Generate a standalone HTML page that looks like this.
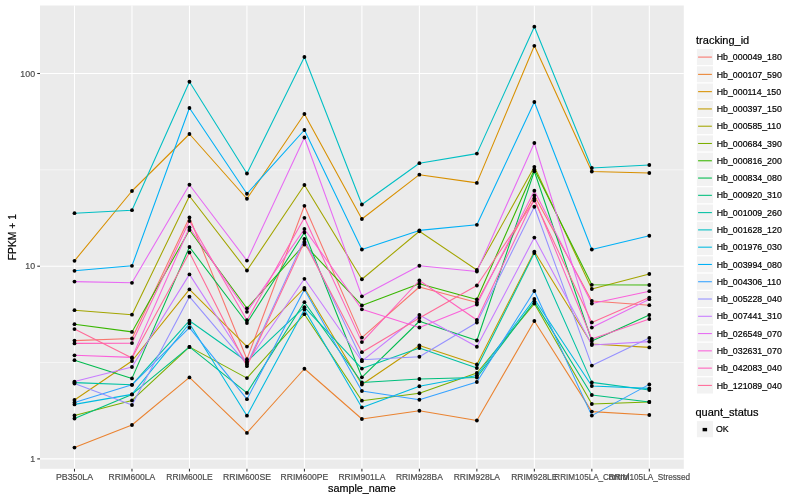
<!DOCTYPE html><html><head><meta charset="utf-8"><style>html,body{margin:0;padding:0;background:#fff;width:800px;height:500px;overflow:hidden}svg{display:block}text{font-family:"Liberation Sans",Arial,Helvetica,sans-serif;stroke-width:0.2px}text[fill="#000"]{stroke:#000}text[fill="#4D4D4D"]{stroke:#4D4D4D}</style></head><body>
<svg width="800" height="500" viewBox="0 0 800 500">
<rect width="800" height="500" fill="#FFFFFF"/>
<rect x="40.0" y="5.5" width="643.80" height="463.30" fill="#EBEBEB"/>
<line x1="40.0" x2="683.8" y1="169.85" y2="169.85" stroke="#FFFFFF" stroke-width="0.53"/>
<line x1="40.0" x2="683.8" y1="362.55" y2="362.55" stroke="#FFFFFF" stroke-width="0.53"/>
<line x1="40.0" x2="683.8" y1="73.5" y2="73.5" stroke="#FFFFFF" stroke-width="1.07"/>
<line x1="40.0" x2="683.8" y1="266.2" y2="266.2" stroke="#FFFFFF" stroke-width="1.07"/>
<line x1="40.0" x2="683.8" y1="458.9" y2="458.9" stroke="#FFFFFF" stroke-width="1.07"/>
<line x1="74.49" x2="74.49" y1="5.5" y2="468.8" stroke="#FFFFFF" stroke-width="1.07"/>
<line x1="131.97" x2="131.97" y1="5.5" y2="468.8" stroke="#FFFFFF" stroke-width="1.07"/>
<line x1="189.45" x2="189.45" y1="5.5" y2="468.8" stroke="#FFFFFF" stroke-width="1.07"/>
<line x1="246.94" x2="246.94" y1="5.5" y2="468.8" stroke="#FFFFFF" stroke-width="1.07"/>
<line x1="304.42" x2="304.42" y1="5.5" y2="468.8" stroke="#FFFFFF" stroke-width="1.07"/>
<line x1="361.90" x2="361.90" y1="5.5" y2="468.8" stroke="#FFFFFF" stroke-width="1.07"/>
<line x1="419.38" x2="419.38" y1="5.5" y2="468.8" stroke="#FFFFFF" stroke-width="1.07"/>
<line x1="476.86" x2="476.86" y1="5.5" y2="468.8" stroke="#FFFFFF" stroke-width="1.07"/>
<line x1="534.35" x2="534.35" y1="5.5" y2="468.8" stroke="#FFFFFF" stroke-width="1.07"/>
<line x1="591.83" x2="591.83" y1="5.5" y2="468.8" stroke="#FFFFFF" stroke-width="1.07"/>
<line x1="649.31" x2="649.31" y1="5.5" y2="468.8" stroke="#FFFFFF" stroke-width="1.07"/>
<polyline points="74.49,340.60 131.97,338.50 189.45,217.50 246.94,359.20 304.42,205.80 361.90,337.60 419.38,287.00 476.86,302.50 534.35,195.50 591.83,301.00 649.31,305.20" fill="none" stroke="#F8766D" stroke-width="1.07" stroke-linejoin="round" stroke-linecap="butt"/>
<polyline points="74.49,447.60 131.97,425.00 189.45,377.40 246.94,432.90 304.42,368.75 361.90,419.00 419.38,410.75 476.86,420.50 534.35,321.00 591.83,411.60 649.31,415.00" fill="none" stroke="#EA8331" stroke-width="1.07" stroke-linejoin="round" stroke-linecap="butt"/>
<polyline points="74.49,260.80 131.97,191.00 189.45,134.00 246.94,198.75 304.42,114.00 361.90,219.00 419.38,174.70 476.86,182.90 534.35,45.80 591.83,171.50 649.31,173.00" fill="none" stroke="#D89000" stroke-width="1.07" stroke-linejoin="round" stroke-linecap="butt"/>
<polyline points="74.49,400.00 131.97,361.00 189.45,289.40 246.94,346.60 304.42,288.00 361.90,384.50 419.38,345.50 476.86,364.50 534.35,251.60 591.83,344.00 649.31,347.40" fill="none" stroke="#C09B00" stroke-width="1.07" stroke-linejoin="round" stroke-linecap="butt"/>
<polyline points="74.49,310.20 131.97,314.70 189.45,196.00 246.94,270.50 304.42,185.00 361.90,279.25 419.38,231.25 476.86,270.00 534.35,166.80 591.83,289.00 649.31,274.00" fill="none" stroke="#A3A500" stroke-width="1.07" stroke-linejoin="round" stroke-linecap="butt"/>
<polyline points="74.49,415.40 131.97,400.40 189.45,346.90 246.94,378.10 304.42,314.20 361.90,400.70 419.38,393.25 476.86,373.00 534.35,303.60 591.83,404.00 649.31,402.00" fill="none" stroke="#7CAE00" stroke-width="1.07" stroke-linejoin="round" stroke-linecap="butt"/>
<polyline points="74.49,324.20 131.97,331.90 189.45,230.00 246.94,308.30 304.42,244.50 361.90,305.40 419.38,283.75 476.86,299.50 534.35,169.50 591.83,284.80 649.31,285.00" fill="none" stroke="#39B600" stroke-width="1.07" stroke-linejoin="round" stroke-linecap="butt"/>
<polyline points="74.49,360.20 131.97,378.40 189.45,247.00 246.94,323.00 304.42,232.50 361.90,377.30 419.38,321.25 476.86,340.50 534.35,171.25 591.83,341.00 649.31,315.00" fill="none" stroke="#00BB4E" stroke-width="1.07" stroke-linejoin="round" stroke-linecap="butt"/>
<polyline points="74.49,418.50 131.97,394.40 189.45,346.90 246.94,392.90 304.42,302.20 361.90,382.50 419.38,379.00 476.86,377.50 534.35,301.60 591.83,395.00 649.31,402.00" fill="none" stroke="#00BF7D" stroke-width="1.07" stroke-linejoin="round" stroke-linecap="butt"/>
<polyline points="74.49,382.60 131.97,384.80 189.45,320.70 246.94,361.50 304.42,307.20 361.90,368.60 419.38,348.00 476.86,368.00 534.35,253.00 591.83,382.40 649.31,390.00" fill="none" stroke="#00C1A3" stroke-width="1.07" stroke-linejoin="round" stroke-linecap="butt"/>
<polyline points="74.49,213.20 131.97,210.20 189.45,81.75 246.94,173.50 304.42,57.00 361.90,204.50 419.38,163.20 476.86,153.60 534.35,26.70 591.83,168.00 649.31,165.00" fill="none" stroke="#00BFC4" stroke-width="1.07" stroke-linejoin="round" stroke-linecap="butt"/>
<polyline points="74.49,404.40 131.97,394.40 189.45,323.50 246.94,415.70 304.42,309.60 361.90,407.40 419.38,386.25 476.86,375.50 534.35,299.00 591.83,386.00 649.31,388.40" fill="none" stroke="#00BAE0" stroke-width="1.07" stroke-linejoin="round" stroke-linecap="butt"/>
<polyline points="74.49,270.80 131.97,265.80 189.45,108.00 246.94,193.75 304.42,130.00 361.90,249.50 419.38,230.40 476.86,224.80 534.35,102.00 591.83,249.50 649.31,235.75" fill="none" stroke="#00B0F6" stroke-width="1.07" stroke-linejoin="round" stroke-linecap="butt"/>
<polyline points="74.49,402.40 131.97,384.80 189.45,327.70 246.94,399.20 304.42,289.50 361.90,391.00 419.38,399.75 476.86,382.00 534.35,291.00 591.83,415.60 649.31,384.40" fill="none" stroke="#35A2FF" stroke-width="1.07" stroke-linejoin="round" stroke-linecap="butt"/>
<polyline points="74.49,383.60 131.97,405.00 189.45,296.70 246.94,364.40 304.42,239.00 361.90,359.80 419.38,356.75 476.86,322.50 534.35,206.75 591.83,365.60 649.31,338.00" fill="none" stroke="#9590FF" stroke-width="1.07" stroke-linejoin="round" stroke-linecap="butt"/>
<polyline points="74.49,381.60 131.97,367.00 189.45,274.40 246.94,363.00 304.42,278.80 361.90,361.20 419.38,315.00 476.86,346.75 534.35,237.60 591.83,345.00 649.31,341.60" fill="none" stroke="#C77CFF" stroke-width="1.07" stroke-linejoin="round" stroke-linecap="butt"/>
<polyline points="74.49,281.60 131.97,282.80 189.45,184.75 246.94,260.60 304.42,137.50 361.90,296.30 419.38,265.75 476.86,271.50 534.35,143.00 591.83,327.60 649.31,299.20" fill="none" stroke="#E76BF3" stroke-width="1.07" stroke-linejoin="round" stroke-linecap="butt"/>
<polyline points="74.49,355.30 131.97,357.40 189.45,227.50 246.94,311.80 304.42,229.00 361.90,309.30 419.38,327.50 476.86,304.50 534.35,190.75 591.83,303.60 649.31,291.20" fill="none" stroke="#FA62DB" stroke-width="1.07" stroke-linejoin="round" stroke-linecap="butt"/>
<polyline points="74.49,343.40 131.97,343.10 189.45,221.00 246.94,320.20 304.42,217.80 361.90,342.10 419.38,280.50 476.86,320.00 534.35,198.50 591.83,339.00 649.31,319.00" fill="none" stroke="#FF62BC" stroke-width="1.07" stroke-linejoin="round" stroke-linecap="butt"/>
<polyline points="74.49,329.10 131.97,358.10 189.45,252.50 246.94,366.20 304.42,242.00 361.90,352.20 419.38,318.00 476.86,285.50 534.35,200.50 591.83,322.40 649.31,297.60" fill="none" stroke="#FF6A98" stroke-width="1.07" stroke-linejoin="round" stroke-linecap="butt"/>
<circle cx="74.49" cy="340.60" r="1.9" fill="#000"/>
<circle cx="131.97" cy="338.50" r="1.9" fill="#000"/>
<circle cx="189.45" cy="217.50" r="1.9" fill="#000"/>
<circle cx="246.94" cy="359.20" r="1.9" fill="#000"/>
<circle cx="304.42" cy="205.80" r="1.9" fill="#000"/>
<circle cx="361.90" cy="337.60" r="1.9" fill="#000"/>
<circle cx="419.38" cy="287.00" r="1.9" fill="#000"/>
<circle cx="476.86" cy="302.50" r="1.9" fill="#000"/>
<circle cx="534.35" cy="195.50" r="1.9" fill="#000"/>
<circle cx="591.83" cy="301.00" r="1.9" fill="#000"/>
<circle cx="649.31" cy="305.20" r="1.9" fill="#000"/>
<circle cx="74.49" cy="447.60" r="1.9" fill="#000"/>
<circle cx="131.97" cy="425.00" r="1.9" fill="#000"/>
<circle cx="189.45" cy="377.40" r="1.9" fill="#000"/>
<circle cx="246.94" cy="432.90" r="1.9" fill="#000"/>
<circle cx="304.42" cy="368.75" r="1.9" fill="#000"/>
<circle cx="361.90" cy="419.00" r="1.9" fill="#000"/>
<circle cx="419.38" cy="410.75" r="1.9" fill="#000"/>
<circle cx="476.86" cy="420.50" r="1.9" fill="#000"/>
<circle cx="534.35" cy="321.00" r="1.9" fill="#000"/>
<circle cx="591.83" cy="411.60" r="1.9" fill="#000"/>
<circle cx="649.31" cy="415.00" r="1.9" fill="#000"/>
<circle cx="74.49" cy="260.80" r="1.9" fill="#000"/>
<circle cx="131.97" cy="191.00" r="1.9" fill="#000"/>
<circle cx="189.45" cy="134.00" r="1.9" fill="#000"/>
<circle cx="246.94" cy="198.75" r="1.9" fill="#000"/>
<circle cx="304.42" cy="114.00" r="1.9" fill="#000"/>
<circle cx="361.90" cy="219.00" r="1.9" fill="#000"/>
<circle cx="419.38" cy="174.70" r="1.9" fill="#000"/>
<circle cx="476.86" cy="182.90" r="1.9" fill="#000"/>
<circle cx="534.35" cy="45.80" r="1.9" fill="#000"/>
<circle cx="591.83" cy="171.50" r="1.9" fill="#000"/>
<circle cx="649.31" cy="173.00" r="1.9" fill="#000"/>
<circle cx="74.49" cy="400.00" r="1.9" fill="#000"/>
<circle cx="131.97" cy="361.00" r="1.9" fill="#000"/>
<circle cx="189.45" cy="289.40" r="1.9" fill="#000"/>
<circle cx="246.94" cy="346.60" r="1.9" fill="#000"/>
<circle cx="304.42" cy="288.00" r="1.9" fill="#000"/>
<circle cx="361.90" cy="384.50" r="1.9" fill="#000"/>
<circle cx="419.38" cy="345.50" r="1.9" fill="#000"/>
<circle cx="476.86" cy="364.50" r="1.9" fill="#000"/>
<circle cx="534.35" cy="251.60" r="1.9" fill="#000"/>
<circle cx="591.83" cy="344.00" r="1.9" fill="#000"/>
<circle cx="649.31" cy="347.40" r="1.9" fill="#000"/>
<circle cx="74.49" cy="310.20" r="1.9" fill="#000"/>
<circle cx="131.97" cy="314.70" r="1.9" fill="#000"/>
<circle cx="189.45" cy="196.00" r="1.9" fill="#000"/>
<circle cx="246.94" cy="270.50" r="1.9" fill="#000"/>
<circle cx="304.42" cy="185.00" r="1.9" fill="#000"/>
<circle cx="361.90" cy="279.25" r="1.9" fill="#000"/>
<circle cx="419.38" cy="231.25" r="1.9" fill="#000"/>
<circle cx="476.86" cy="270.00" r="1.9" fill="#000"/>
<circle cx="534.35" cy="166.80" r="1.9" fill="#000"/>
<circle cx="591.83" cy="289.00" r="1.9" fill="#000"/>
<circle cx="649.31" cy="274.00" r="1.9" fill="#000"/>
<circle cx="74.49" cy="415.40" r="1.9" fill="#000"/>
<circle cx="131.97" cy="400.40" r="1.9" fill="#000"/>
<circle cx="189.45" cy="346.90" r="1.9" fill="#000"/>
<circle cx="246.94" cy="378.10" r="1.9" fill="#000"/>
<circle cx="304.42" cy="314.20" r="1.9" fill="#000"/>
<circle cx="361.90" cy="400.70" r="1.9" fill="#000"/>
<circle cx="419.38" cy="393.25" r="1.9" fill="#000"/>
<circle cx="476.86" cy="373.00" r="1.9" fill="#000"/>
<circle cx="534.35" cy="303.60" r="1.9" fill="#000"/>
<circle cx="591.83" cy="404.00" r="1.9" fill="#000"/>
<circle cx="649.31" cy="402.00" r="1.9" fill="#000"/>
<circle cx="74.49" cy="324.20" r="1.9" fill="#000"/>
<circle cx="131.97" cy="331.90" r="1.9" fill="#000"/>
<circle cx="189.45" cy="230.00" r="1.9" fill="#000"/>
<circle cx="246.94" cy="308.30" r="1.9" fill="#000"/>
<circle cx="304.42" cy="244.50" r="1.9" fill="#000"/>
<circle cx="361.90" cy="305.40" r="1.9" fill="#000"/>
<circle cx="419.38" cy="283.75" r="1.9" fill="#000"/>
<circle cx="476.86" cy="299.50" r="1.9" fill="#000"/>
<circle cx="534.35" cy="169.50" r="1.9" fill="#000"/>
<circle cx="591.83" cy="284.80" r="1.9" fill="#000"/>
<circle cx="649.31" cy="285.00" r="1.9" fill="#000"/>
<circle cx="74.49" cy="360.20" r="1.9" fill="#000"/>
<circle cx="131.97" cy="378.40" r="1.9" fill="#000"/>
<circle cx="189.45" cy="247.00" r="1.9" fill="#000"/>
<circle cx="246.94" cy="323.00" r="1.9" fill="#000"/>
<circle cx="304.42" cy="232.50" r="1.9" fill="#000"/>
<circle cx="361.90" cy="377.30" r="1.9" fill="#000"/>
<circle cx="419.38" cy="321.25" r="1.9" fill="#000"/>
<circle cx="476.86" cy="340.50" r="1.9" fill="#000"/>
<circle cx="534.35" cy="171.25" r="1.9" fill="#000"/>
<circle cx="591.83" cy="341.00" r="1.9" fill="#000"/>
<circle cx="649.31" cy="315.00" r="1.9" fill="#000"/>
<circle cx="74.49" cy="418.50" r="1.9" fill="#000"/>
<circle cx="131.97" cy="394.40" r="1.9" fill="#000"/>
<circle cx="189.45" cy="346.90" r="1.9" fill="#000"/>
<circle cx="246.94" cy="392.90" r="1.9" fill="#000"/>
<circle cx="304.42" cy="302.20" r="1.9" fill="#000"/>
<circle cx="361.90" cy="382.50" r="1.9" fill="#000"/>
<circle cx="419.38" cy="379.00" r="1.9" fill="#000"/>
<circle cx="476.86" cy="377.50" r="1.9" fill="#000"/>
<circle cx="534.35" cy="301.60" r="1.9" fill="#000"/>
<circle cx="591.83" cy="395.00" r="1.9" fill="#000"/>
<circle cx="649.31" cy="402.00" r="1.9" fill="#000"/>
<circle cx="74.49" cy="382.60" r="1.9" fill="#000"/>
<circle cx="131.97" cy="384.80" r="1.9" fill="#000"/>
<circle cx="189.45" cy="320.70" r="1.9" fill="#000"/>
<circle cx="246.94" cy="361.50" r="1.9" fill="#000"/>
<circle cx="304.42" cy="307.20" r="1.9" fill="#000"/>
<circle cx="361.90" cy="368.60" r="1.9" fill="#000"/>
<circle cx="419.38" cy="348.00" r="1.9" fill="#000"/>
<circle cx="476.86" cy="368.00" r="1.9" fill="#000"/>
<circle cx="534.35" cy="253.00" r="1.9" fill="#000"/>
<circle cx="591.83" cy="382.40" r="1.9" fill="#000"/>
<circle cx="649.31" cy="390.00" r="1.9" fill="#000"/>
<circle cx="74.49" cy="213.20" r="1.9" fill="#000"/>
<circle cx="131.97" cy="210.20" r="1.9" fill="#000"/>
<circle cx="189.45" cy="81.75" r="1.9" fill="#000"/>
<circle cx="246.94" cy="173.50" r="1.9" fill="#000"/>
<circle cx="304.42" cy="57.00" r="1.9" fill="#000"/>
<circle cx="361.90" cy="204.50" r="1.9" fill="#000"/>
<circle cx="419.38" cy="163.20" r="1.9" fill="#000"/>
<circle cx="476.86" cy="153.60" r="1.9" fill="#000"/>
<circle cx="534.35" cy="26.70" r="1.9" fill="#000"/>
<circle cx="591.83" cy="168.00" r="1.9" fill="#000"/>
<circle cx="649.31" cy="165.00" r="1.9" fill="#000"/>
<circle cx="74.49" cy="404.40" r="1.9" fill="#000"/>
<circle cx="131.97" cy="394.40" r="1.9" fill="#000"/>
<circle cx="189.45" cy="323.50" r="1.9" fill="#000"/>
<circle cx="246.94" cy="415.70" r="1.9" fill="#000"/>
<circle cx="304.42" cy="309.60" r="1.9" fill="#000"/>
<circle cx="361.90" cy="407.40" r="1.9" fill="#000"/>
<circle cx="419.38" cy="386.25" r="1.9" fill="#000"/>
<circle cx="476.86" cy="375.50" r="1.9" fill="#000"/>
<circle cx="534.35" cy="299.00" r="1.9" fill="#000"/>
<circle cx="591.83" cy="386.00" r="1.9" fill="#000"/>
<circle cx="649.31" cy="388.40" r="1.9" fill="#000"/>
<circle cx="74.49" cy="270.80" r="1.9" fill="#000"/>
<circle cx="131.97" cy="265.80" r="1.9" fill="#000"/>
<circle cx="189.45" cy="108.00" r="1.9" fill="#000"/>
<circle cx="246.94" cy="193.75" r="1.9" fill="#000"/>
<circle cx="304.42" cy="130.00" r="1.9" fill="#000"/>
<circle cx="361.90" cy="249.50" r="1.9" fill="#000"/>
<circle cx="419.38" cy="230.40" r="1.9" fill="#000"/>
<circle cx="476.86" cy="224.80" r="1.9" fill="#000"/>
<circle cx="534.35" cy="102.00" r="1.9" fill="#000"/>
<circle cx="591.83" cy="249.50" r="1.9" fill="#000"/>
<circle cx="649.31" cy="235.75" r="1.9" fill="#000"/>
<circle cx="74.49" cy="402.40" r="1.9" fill="#000"/>
<circle cx="131.97" cy="384.80" r="1.9" fill="#000"/>
<circle cx="189.45" cy="327.70" r="1.9" fill="#000"/>
<circle cx="246.94" cy="399.20" r="1.9" fill="#000"/>
<circle cx="304.42" cy="289.50" r="1.9" fill="#000"/>
<circle cx="361.90" cy="391.00" r="1.9" fill="#000"/>
<circle cx="419.38" cy="399.75" r="1.9" fill="#000"/>
<circle cx="476.86" cy="382.00" r="1.9" fill="#000"/>
<circle cx="534.35" cy="291.00" r="1.9" fill="#000"/>
<circle cx="591.83" cy="415.60" r="1.9" fill="#000"/>
<circle cx="649.31" cy="384.40" r="1.9" fill="#000"/>
<circle cx="74.49" cy="383.60" r="1.9" fill="#000"/>
<circle cx="131.97" cy="405.00" r="1.9" fill="#000"/>
<circle cx="189.45" cy="296.70" r="1.9" fill="#000"/>
<circle cx="246.94" cy="364.40" r="1.9" fill="#000"/>
<circle cx="304.42" cy="239.00" r="1.9" fill="#000"/>
<circle cx="361.90" cy="359.80" r="1.9" fill="#000"/>
<circle cx="419.38" cy="356.75" r="1.9" fill="#000"/>
<circle cx="476.86" cy="322.50" r="1.9" fill="#000"/>
<circle cx="534.35" cy="206.75" r="1.9" fill="#000"/>
<circle cx="591.83" cy="365.60" r="1.9" fill="#000"/>
<circle cx="649.31" cy="338.00" r="1.9" fill="#000"/>
<circle cx="74.49" cy="381.60" r="1.9" fill="#000"/>
<circle cx="131.97" cy="367.00" r="1.9" fill="#000"/>
<circle cx="189.45" cy="274.40" r="1.9" fill="#000"/>
<circle cx="246.94" cy="363.00" r="1.9" fill="#000"/>
<circle cx="304.42" cy="278.80" r="1.9" fill="#000"/>
<circle cx="361.90" cy="361.20" r="1.9" fill="#000"/>
<circle cx="419.38" cy="315.00" r="1.9" fill="#000"/>
<circle cx="476.86" cy="346.75" r="1.9" fill="#000"/>
<circle cx="534.35" cy="237.60" r="1.9" fill="#000"/>
<circle cx="591.83" cy="345.00" r="1.9" fill="#000"/>
<circle cx="649.31" cy="341.60" r="1.9" fill="#000"/>
<circle cx="74.49" cy="281.60" r="1.9" fill="#000"/>
<circle cx="131.97" cy="282.80" r="1.9" fill="#000"/>
<circle cx="189.45" cy="184.75" r="1.9" fill="#000"/>
<circle cx="246.94" cy="260.60" r="1.9" fill="#000"/>
<circle cx="304.42" cy="137.50" r="1.9" fill="#000"/>
<circle cx="361.90" cy="296.30" r="1.9" fill="#000"/>
<circle cx="419.38" cy="265.75" r="1.9" fill="#000"/>
<circle cx="476.86" cy="271.50" r="1.9" fill="#000"/>
<circle cx="534.35" cy="143.00" r="1.9" fill="#000"/>
<circle cx="591.83" cy="327.60" r="1.9" fill="#000"/>
<circle cx="649.31" cy="299.20" r="1.9" fill="#000"/>
<circle cx="74.49" cy="355.30" r="1.9" fill="#000"/>
<circle cx="131.97" cy="357.40" r="1.9" fill="#000"/>
<circle cx="189.45" cy="227.50" r="1.9" fill="#000"/>
<circle cx="246.94" cy="311.80" r="1.9" fill="#000"/>
<circle cx="304.42" cy="229.00" r="1.9" fill="#000"/>
<circle cx="361.90" cy="309.30" r="1.9" fill="#000"/>
<circle cx="419.38" cy="327.50" r="1.9" fill="#000"/>
<circle cx="476.86" cy="304.50" r="1.9" fill="#000"/>
<circle cx="534.35" cy="190.75" r="1.9" fill="#000"/>
<circle cx="591.83" cy="303.60" r="1.9" fill="#000"/>
<circle cx="649.31" cy="291.20" r="1.9" fill="#000"/>
<circle cx="74.49" cy="343.40" r="1.9" fill="#000"/>
<circle cx="131.97" cy="343.10" r="1.9" fill="#000"/>
<circle cx="189.45" cy="221.00" r="1.9" fill="#000"/>
<circle cx="246.94" cy="320.20" r="1.9" fill="#000"/>
<circle cx="304.42" cy="217.80" r="1.9" fill="#000"/>
<circle cx="361.90" cy="342.10" r="1.9" fill="#000"/>
<circle cx="419.38" cy="280.50" r="1.9" fill="#000"/>
<circle cx="476.86" cy="320.00" r="1.9" fill="#000"/>
<circle cx="534.35" cy="198.50" r="1.9" fill="#000"/>
<circle cx="591.83" cy="339.00" r="1.9" fill="#000"/>
<circle cx="649.31" cy="319.00" r="1.9" fill="#000"/>
<circle cx="74.49" cy="329.10" r="1.9" fill="#000"/>
<circle cx="131.97" cy="358.10" r="1.9" fill="#000"/>
<circle cx="189.45" cy="252.50" r="1.9" fill="#000"/>
<circle cx="246.94" cy="366.20" r="1.9" fill="#000"/>
<circle cx="304.42" cy="242.00" r="1.9" fill="#000"/>
<circle cx="361.90" cy="352.20" r="1.9" fill="#000"/>
<circle cx="419.38" cy="318.00" r="1.9" fill="#000"/>
<circle cx="476.86" cy="285.50" r="1.9" fill="#000"/>
<circle cx="534.35" cy="200.50" r="1.9" fill="#000"/>
<circle cx="591.83" cy="322.40" r="1.9" fill="#000"/>
<circle cx="649.31" cy="297.60" r="1.9" fill="#000"/>
<line x1="37.25" x2="40.0" y1="73.5" y2="73.5" stroke="#333333" stroke-width="1.07"/>
<text x="35.05" y="76.7" font-size="8.8" fill="#4D4D4D" text-anchor="end">100</text>
<line x1="37.25" x2="40.0" y1="266.2" y2="266.2" stroke="#333333" stroke-width="1.07"/>
<text x="35.05" y="269.4" font-size="8.8" fill="#4D4D4D" text-anchor="end">10</text>
<line x1="37.25" x2="40.0" y1="458.9" y2="458.9" stroke="#333333" stroke-width="1.07"/>
<text x="35.05" y="462.09999999999997" font-size="8.8" fill="#4D4D4D" text-anchor="end">1</text>
<line x1="74.49" x2="74.49" y1="468.8" y2="471.55" stroke="#333333" stroke-width="1.07"/>
<text x="74.49" y="480" font-size="8.8" fill="#4D4D4D" text-anchor="middle">PB350LA</text>
<line x1="131.97" x2="131.97" y1="468.8" y2="471.55" stroke="#333333" stroke-width="1.07"/>
<text x="131.97" y="480" font-size="8.8" fill="#4D4D4D" text-anchor="middle" textLength="46.7" lengthAdjust="spacingAndGlyphs">RRIM600LA</text>
<line x1="189.45" x2="189.45" y1="468.8" y2="471.55" stroke="#333333" stroke-width="1.07"/>
<text x="189.45" y="480" font-size="8.8" fill="#4D4D4D" text-anchor="middle" textLength="46.4" lengthAdjust="spacingAndGlyphs">RRIM600LE</text>
<line x1="246.94" x2="246.94" y1="468.8" y2="471.55" stroke="#333333" stroke-width="1.07"/>
<text x="246.94" y="480" font-size="8.8" fill="#4D4D4D" text-anchor="middle" textLength="48.1" lengthAdjust="spacingAndGlyphs">RRIM600SE</text>
<line x1="304.42" x2="304.42" y1="468.8" y2="471.55" stroke="#333333" stroke-width="1.07"/>
<text x="304.42" y="480" font-size="8.8" fill="#4D4D4D" text-anchor="middle" textLength="47.7" lengthAdjust="spacingAndGlyphs">RRIM600PE</text>
<line x1="361.90" x2="361.90" y1="468.8" y2="471.55" stroke="#333333" stroke-width="1.07"/>
<text x="361.90" y="480" font-size="8.8" fill="#4D4D4D" text-anchor="middle" textLength="47.0" lengthAdjust="spacingAndGlyphs">RRIM901LA</text>
<line x1="419.38" x2="419.38" y1="468.8" y2="471.55" stroke="#333333" stroke-width="1.07"/>
<text x="419.38" y="480" font-size="8.8" fill="#4D4D4D" text-anchor="middle" textLength="46.95" lengthAdjust="spacingAndGlyphs">RRIM928BA</text>
<line x1="476.86" x2="476.86" y1="468.8" y2="471.55" stroke="#333333" stroke-width="1.07"/>
<text x="476.86" y="480" font-size="8.8" fill="#4D4D4D" text-anchor="middle" textLength="46.4" lengthAdjust="spacingAndGlyphs">RRIM928LA</text>
<line x1="534.35" x2="534.35" y1="468.8" y2="471.55" stroke="#333333" stroke-width="1.07"/>
<text x="534.35" y="480" font-size="8.8" fill="#4D4D4D" text-anchor="middle" textLength="46.4" lengthAdjust="spacingAndGlyphs">RRIM928LE</text>
<line x1="591.83" x2="591.83" y1="468.8" y2="471.55" stroke="#333333" stroke-width="1.07"/>
<text x="591.83" y="480" font-size="8.8" fill="#4D4D4D" text-anchor="middle" textLength="75.0" lengthAdjust="spacingAndGlyphs">RRIM105LA_Control</text>
<line x1="649.31" x2="649.31" y1="468.8" y2="471.55" stroke="#333333" stroke-width="1.07"/>
<text x="649.31" y="480" font-size="8.8" fill="#4D4D4D" text-anchor="middle" textLength="81.6" lengthAdjust="spacingAndGlyphs">RRIM105LA_Stressed</text>
<text x="361.90" y="492" font-size="11" fill="#000" text-anchor="middle" textLength="67.8" lengthAdjust="spacingAndGlyphs">sample_name</text>
<text transform="translate(16,237.15) rotate(-90)" x="0" y="0" font-size="11" fill="#000" text-anchor="middle" textLength="46.1" lengthAdjust="spacingAndGlyphs">FPKM + 1</text>
<text x="696.0500000000001" y="44" font-size="11" fill="#000">tracking_id</text>
<rect x="696.35" y="48.45" width="17.28" height="17.28" fill="#F2F2F2" stroke="#FFFFFF" stroke-width="1.07"/>
<line x1="698.08" x2="711.90" y1="57.09" y2="57.09" stroke="#F8766D" stroke-width="1.07"/>
<text x="716.73" y="60.24" font-size="8.8" fill="#000">Hb_000049_180</text>
<rect x="696.35" y="65.73" width="17.28" height="17.28" fill="#F2F2F2" stroke="#FFFFFF" stroke-width="1.07"/>
<line x1="698.08" x2="711.90" y1="74.37" y2="74.37" stroke="#EA8331" stroke-width="1.07"/>
<text x="716.73" y="77.52" font-size="8.8" fill="#000">Hb_000107_590</text>
<rect x="696.35" y="83.01" width="17.28" height="17.28" fill="#F2F2F2" stroke="#FFFFFF" stroke-width="1.07"/>
<line x1="698.08" x2="711.90" y1="91.65" y2="91.65" stroke="#D89000" stroke-width="1.07"/>
<text x="716.73" y="94.80" font-size="8.8" fill="#000">Hb_000114_150</text>
<rect x="696.35" y="100.29" width="17.28" height="17.28" fill="#F2F2F2" stroke="#FFFFFF" stroke-width="1.07"/>
<line x1="698.08" x2="711.90" y1="108.93" y2="108.93" stroke="#C09B00" stroke-width="1.07"/>
<text x="716.73" y="112.08" font-size="8.8" fill="#000">Hb_000397_150</text>
<rect x="696.35" y="117.57" width="17.28" height="17.28" fill="#F2F2F2" stroke="#FFFFFF" stroke-width="1.07"/>
<line x1="698.08" x2="711.90" y1="126.21" y2="126.21" stroke="#A3A500" stroke-width="1.07"/>
<text x="716.73" y="129.36" font-size="8.8" fill="#000">Hb_000585_110</text>
<rect x="696.35" y="134.85" width="17.28" height="17.28" fill="#F2F2F2" stroke="#FFFFFF" stroke-width="1.07"/>
<line x1="698.08" x2="711.90" y1="143.49" y2="143.49" stroke="#7CAE00" stroke-width="1.07"/>
<text x="716.73" y="146.64" font-size="8.8" fill="#000">Hb_000684_390</text>
<rect x="696.35" y="152.13" width="17.28" height="17.28" fill="#F2F2F2" stroke="#FFFFFF" stroke-width="1.07"/>
<line x1="698.08" x2="711.90" y1="160.77" y2="160.77" stroke="#39B600" stroke-width="1.07"/>
<text x="716.73" y="163.92" font-size="8.8" fill="#000">Hb_000816_200</text>
<rect x="696.35" y="169.41" width="17.28" height="17.28" fill="#F2F2F2" stroke="#FFFFFF" stroke-width="1.07"/>
<line x1="698.08" x2="711.90" y1="178.05" y2="178.05" stroke="#00BB4E" stroke-width="1.07"/>
<text x="716.73" y="181.20" font-size="8.8" fill="#000">Hb_000834_080</text>
<rect x="696.35" y="186.69" width="17.28" height="17.28" fill="#F2F2F2" stroke="#FFFFFF" stroke-width="1.07"/>
<line x1="698.08" x2="711.90" y1="195.33" y2="195.33" stroke="#00BF7D" stroke-width="1.07"/>
<text x="716.73" y="198.48" font-size="8.8" fill="#000">Hb_000920_310</text>
<rect x="696.35" y="203.97" width="17.28" height="17.28" fill="#F2F2F2" stroke="#FFFFFF" stroke-width="1.07"/>
<line x1="698.08" x2="711.90" y1="212.61" y2="212.61" stroke="#00C1A3" stroke-width="1.07"/>
<text x="716.73" y="215.76" font-size="8.8" fill="#000">Hb_001009_260</text>
<rect x="696.35" y="221.25" width="17.28" height="17.28" fill="#F2F2F2" stroke="#FFFFFF" stroke-width="1.07"/>
<line x1="698.08" x2="711.90" y1="229.89" y2="229.89" stroke="#00BFC4" stroke-width="1.07"/>
<text x="716.73" y="233.04" font-size="8.8" fill="#000">Hb_001628_120</text>
<rect x="696.35" y="238.53" width="17.28" height="17.28" fill="#F2F2F2" stroke="#FFFFFF" stroke-width="1.07"/>
<line x1="698.08" x2="711.90" y1="247.17" y2="247.17" stroke="#00BAE0" stroke-width="1.07"/>
<text x="716.73" y="250.32" font-size="8.8" fill="#000">Hb_001976_030</text>
<rect x="696.35" y="255.81" width="17.28" height="17.28" fill="#F2F2F2" stroke="#FFFFFF" stroke-width="1.07"/>
<line x1="698.08" x2="711.90" y1="264.45" y2="264.45" stroke="#00B0F6" stroke-width="1.07"/>
<text x="716.73" y="267.60" font-size="8.8" fill="#000">Hb_003994_080</text>
<rect x="696.35" y="273.09" width="17.28" height="17.28" fill="#F2F2F2" stroke="#FFFFFF" stroke-width="1.07"/>
<line x1="698.08" x2="711.90" y1="281.73" y2="281.73" stroke="#35A2FF" stroke-width="1.07"/>
<text x="716.73" y="284.88" font-size="8.8" fill="#000">Hb_004306_110</text>
<rect x="696.35" y="290.37" width="17.28" height="17.28" fill="#F2F2F2" stroke="#FFFFFF" stroke-width="1.07"/>
<line x1="698.08" x2="711.90" y1="299.01" y2="299.01" stroke="#9590FF" stroke-width="1.07"/>
<text x="716.73" y="302.16" font-size="8.8" fill="#000">Hb_005228_040</text>
<rect x="696.35" y="307.65" width="17.28" height="17.28" fill="#F2F2F2" stroke="#FFFFFF" stroke-width="1.07"/>
<line x1="698.08" x2="711.90" y1="316.29" y2="316.29" stroke="#C77CFF" stroke-width="1.07"/>
<text x="716.73" y="319.44" font-size="8.8" fill="#000">Hb_007441_310</text>
<rect x="696.35" y="324.93" width="17.28" height="17.28" fill="#F2F2F2" stroke="#FFFFFF" stroke-width="1.07"/>
<line x1="698.08" x2="711.90" y1="333.57" y2="333.57" stroke="#E76BF3" stroke-width="1.07"/>
<text x="716.73" y="336.72" font-size="8.8" fill="#000">Hb_026549_070</text>
<rect x="696.35" y="342.21" width="17.28" height="17.28" fill="#F2F2F2" stroke="#FFFFFF" stroke-width="1.07"/>
<line x1="698.08" x2="711.90" y1="350.85" y2="350.85" stroke="#FA62DB" stroke-width="1.07"/>
<text x="716.73" y="354.00" font-size="8.8" fill="#000">Hb_032631_070</text>
<rect x="696.35" y="359.49" width="17.28" height="17.28" fill="#F2F2F2" stroke="#FFFFFF" stroke-width="1.07"/>
<line x1="698.08" x2="711.90" y1="368.13" y2="368.13" stroke="#FF62BC" stroke-width="1.07"/>
<text x="716.73" y="371.28" font-size="8.8" fill="#000">Hb_042083_040</text>
<rect x="696.35" y="376.77" width="17.28" height="17.28" fill="#F2F2F2" stroke="#FFFFFF" stroke-width="1.07"/>
<line x1="698.08" x2="711.90" y1="385.41" y2="385.41" stroke="#FF6A98" stroke-width="1.07"/>
<text x="716.73" y="388.56" font-size="8.8" fill="#000">Hb_121089_040</text>
<text x="695.45" y="415.5" font-size="11" fill="#000">quant_status</text>
<rect x="696.35" y="420.55" width="17.28" height="17.28" fill="#F2F2F2" stroke="#FFFFFF" stroke-width="1.07"/>
<rect x="702.6" y="427.9" width="4.5" height="3.4" fill="#000"/>
<text x="715.93" y="431.79" font-size="8.8" fill="#000">OK</text>
</svg></body></html>
